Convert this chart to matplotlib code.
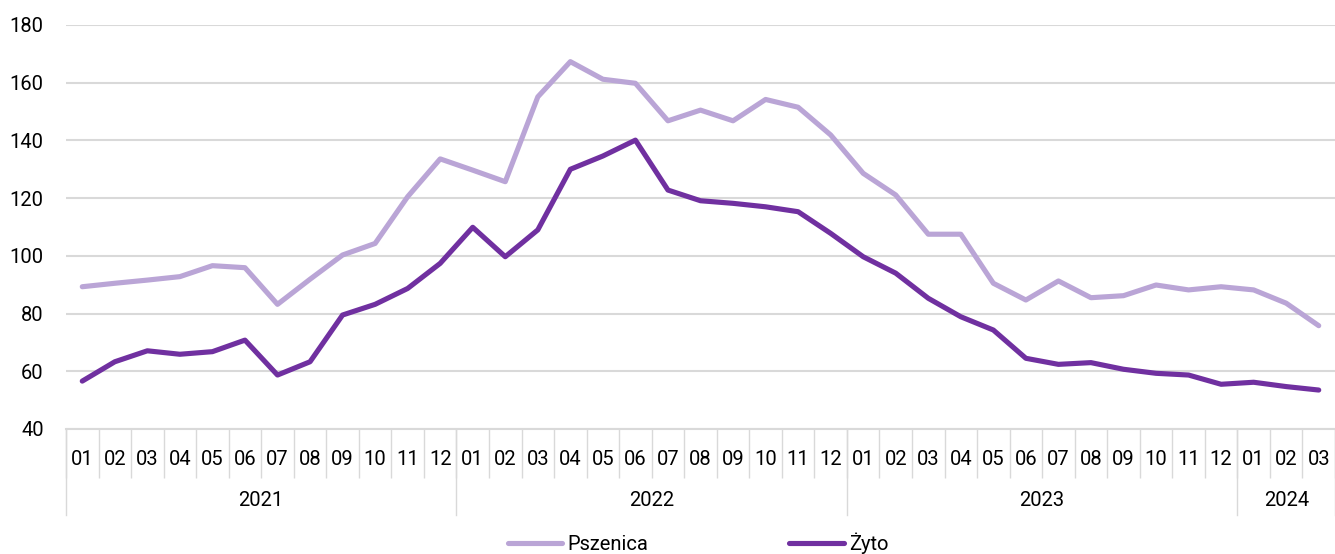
import matplotlib.pyplot as plt
import numpy as np

plt.rcParams['font.family'] = ['Roboto', 'DejaVu Sans']

# Monthly data, 2021-01 .. 2024-03
years = ['2021', '2022', '2023', '2024']
months_per_year = [12, 12, 12, 3]
months = []
for n in months_per_year:
    months += ['{:02d}'.format(m) for m in range(1, n + 1)]

pszenica = [89.3, 90.5, 91.6, 92.8, 96.6, 95.9, 83.2, 91.9, 100.3, 104.3, 120.5, 133.6,
            129.7, 125.7, 155.1, 167.3, 161.2, 159.8, 146.8, 150.5, 146.8, 154.2, 151.5, 141.9,
            128.6, 121.1, 107.5, 107.5, 90.5, 84.7, 91.3, 85.5, 86.2, 89.9, 88.2, 89.3,
            88.2, 83.6, 75.8]
zyto = [56.6, 63.3, 67.1, 65.9, 66.8, 70.8, 58.7, 63.3, 79.5, 83.2, 88.7, 97.4,
        109.9, 99.7, 109.0, 130.0, 134.6, 140.1, 122.8, 119.1, 118.2, 117.0, 115.3, 107.8,
        99.7, 94.0, 85.3, 78.9, 74.3, 64.5, 62.4, 63.0, 60.7, 59.3, 58.7, 55.5,
        56.2, 54.7, 53.5]

light = '#baa5d6'
dark = '#7030a0'
grid_col = '#d9d9d9'
fs = 14.5

fig = plt.figure(figsize=(13.35, 5.54), dpi=100)
ax = fig.add_axes([66 / 1335, 1 - 429 / 554, 1 - 66 / 1335, 404 / 554])

x = np.arange(len(months))
ax.plot(x, pszenica, color=light, lw=3.7, solid_capstyle='round', label='Pszenica', zorder=3)
ax.plot(x, zyto, color=dark, lw=3.7, solid_capstyle='round', label='Żyto', zorder=4)

ax.set_ylim(40, 180)
ax.set_yticks(range(40, 181, 20))
ax.set_xlim(-0.5, len(months) - 0.5)
ax.yaxis.grid(True, color=grid_col, lw=1.5)
ax.set_axisbelow(True)
for s in ['top', 'right', 'left']:
    ax.spines[s].set_visible(False)
ax.spines['bottom'].set_color(grid_col)
ax.spines['bottom'].set_linewidth(1.5)

# month labels, separators as minor ticks
ax.set_xticks(x)
ax.set_xticklabels(months)
ax.set_xticks(np.arange(-0.5, len(months), 1.0), minor=True)
ax.tick_params(axis='x', which='major', length=0, pad=15, labelsize=fs, colors='#000000')
ax.tick_params(axis='x', which='minor', length=35, width=1.0, color=grid_col)
ax.tick_params(axis='y', length=0, pad=16, labelsize=fs)

# year groups
trans = ax.get_xaxis_transform()
px = 1 / 404
start = 0
bounds = [-0.5]
for yr, n in zip(years, months_per_year):
    ax.text(start + (n - 1) / 2, -72 * px, yr, transform=trans, ha='center', va='center', fontsize=fs)
    start += n
    bounds.append(start - 0.5)
for b in bounds:
    ax.plot([b, b], [0, -86 * px], transform=trans, color=grid_col, lw=1.0, clip_on=False)

fig.legend(loc='center', bbox_to_anchor=(0.523, 1 - 543 / 554), ncol=2, frameon=False,
           fontsize=fs, handlelength=2.7, handletextpad=0.25, columnspacing=7.0)

fig.savefig('out.png', dpi=100)
